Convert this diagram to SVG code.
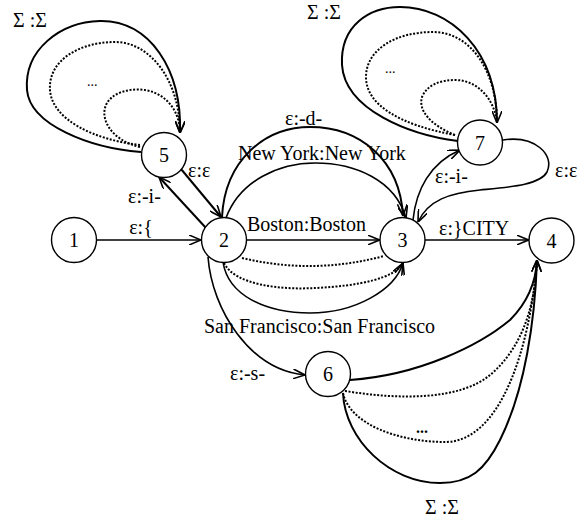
<svg xmlns="http://www.w3.org/2000/svg" width="586" height="518" viewBox="0 0 586 518">
<style>
text{font-family:"Liberation Serif","Times New Roman",serif;font-size:20px;fill:#000}
.n circle{fill:#fff;stroke:#000;stroke-width:1.4}
.n text{text-anchor:middle}
.e{fill:none;stroke:#000;stroke-width:1.6}
.l{fill:none;stroke:#000;stroke-width:2}
.d{fill:none;stroke:#000;stroke-width:2;stroke-dasharray:2 1.6}
.a{marker-end:url(#arr)}
</style>
<defs>
<marker id="arr" viewBox="0 0 12 10" refX="12" refY="5" markerWidth="12" markerHeight="10" markerUnits="userSpaceOnUse" orient="auto">
<path d="M0,0 L12,5 L0,10" fill="none" stroke="#000" stroke-width="1.6"/>
</marker>
</defs>
<g id="connectors">
<path class="e a" d="M96.5,240 L201,240"/>
<path class="e a" d="M246.5,240 L379.5,240"/>
<path class="e a" d="M425,240 L528.5,240"/>
<path class="l a" d="M206,228 L159,177"/>
<path class="l a" d="M181,169 L221,217"/>
<path class="l a" d="M141,152 C 90,148 30,125 27,90 C 24,50 60,22 100,21 C 150,20 182,70 180,133"/>
<path class="d a" d="M140,145 C 95,140 52,120 50,90 C 48,60 80,42 115,42 C 150,42 180,80 180,133"/>
<path class="d" d="M140,147 C 110,140 100,118 106,105 C 112,92 130,88 145,90 C 165,93 180,110 180,133"/>
<path class="l a" d="M458,141 C 410,135 345,110 342,65 C 340,25 370,7 400,7 C 450,7 497,50 497,123"/>
<path class="d" d="M455,135 C 400,125 366,105 366,77 C 366,50 395,32 433,32 C 470,32 497,70 497,123"/>
<path class="d" d="M455,135 C 430,125 418,110 422,97 C 427,85 440,80 455,80 C 478,80 495,100 497,123"/>
<path class="l a" d="M222,217 C 225,160 265,127 310,127 C 360,127 400,160 403,216"/>
<path class="e a" d="M226,218 C 240,180 280,163 315,163 C 355,163 395,180 406,218"/>
<path class="d" d="M242,258 Q 313,275 384,256"/>
<path class="d a" d="M224,263 C 235,285 280,290 315,288 C 360,286 395,278 403,263"/>
<path class="e a" d="M223,262 C 228,295 265,313 310,313 C 355,313 395,290 403,263"/>
<path class="e a" d="M208,257 C 212,310 250,370 305,375"/>
<path class="l a" d="M350,380 C 420,375 480,345 510,320 C 530,300 536,280 537,260"/>
<path class="d" d="M345,391 C 400,400 460,400 490,375 C 520,350 535,310 537,260"/>
<path class="d" d="M343,393 C 350,425 400,442 445,442 C 500,442 530,350 537,260"/>
<path class="l a" d="M343,393 C 345,440 390,483 440,483 C 470,483 485,470 500,440 C 525,390 535,320 537,260"/>
<path class="e a" d="M413,220 C 416,190 430,163 460,150"/>
<path class="e a" d="M503,140 C 535,135 555,155 547,172 C 540,185 510,187 480,190 C 450,193 428,200 418,222"/>
<text x="141" y="234" text-anchor="middle">ε:{</text>
<text x="247" y="231">Boston:Boston</text>
<text x="439" y="235">ε:}CITY</text>
<text x="188" y="177">ε:ε</text>
<text x="128" y="203">ε:-i-</text>
<text x="285" y="125">ε:-d-</text>
<text x="238" y="160">New York:New York</text>
<text x="435" y="183">ε:-i-</text>
<text x="555" y="177">ε:ε</text>
<text x="204" y="333">San Francisco:San Francisco</text>
<text x="230" y="380">ε:-s-</text>
<text x="13" y="27">Σ :Σ</text>
<text x="307" y="19">Σ :Σ</text>
<text x="425" y="514">Σ :Σ</text>
<text x="87" y="86" style="font-size:14px">...</text>
<text x="385" y="73" style="font-size:14px">...</text>
<text x="416" y="433" style="font-size:16px;font-weight:bold">...</text>
</g>
<g id="node1" class="n"><circle cx="74" cy="240" r="22.5"/><text x="74" y="247">1</text></g>
<g id="node2" class="n"><circle cx="224" cy="240" r="22.5"/><text x="224" y="247">2</text></g>
<g id="node3" class="n"><circle cx="402.5" cy="240" r="22.5"/><text x="402.5" y="247">3</text></g>
<g id="node4" class="n"><circle cx="551.5" cy="240.5" r="22.5"/><text x="551.5" y="247.5">4</text></g>
<g id="node5" class="n"><circle cx="164" cy="155" r="22.5"/><text x="164" y="162">5</text></g>
<g id="node6" class="n"><circle cx="328" cy="374" r="22.5"/><text x="328" y="381">6</text></g>
<g id="node7" class="n"><circle cx="480" cy="142.5" r="22.5"/><text x="480" y="149.5">7</text></g>
</svg>
